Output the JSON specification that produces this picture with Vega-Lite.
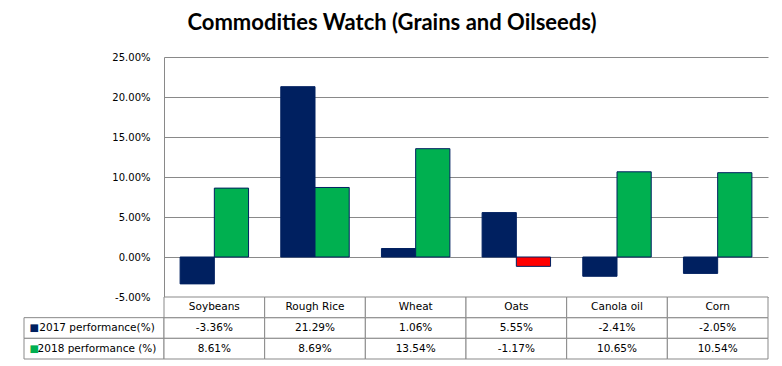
{
  "$schema": "https://vega.github.io/schema/vega-lite/v6.json",
  "padding": {"left": 23, "right": 14.5, "top": 12, "bottom": 7.5},
  "title": {"text": "Commodities Watch (Grains and Oilseeds)", "font": "Lato", "fontSize": 22, "fontWeight": "bold", "color": "#000000", "anchor": "middle", "frame": "bounds", "dx": -4, "offset": 17},
  "columns": 2,
  "spacing": 0,
  "bounds": "flush",
  "datasets": {
    "perf": [
      {"commodity": "Soybeans", "series": "2017 performance(%)", "value": -0.0336},
      {"commodity": "Soybeans", "series": "2018 performance (%)", "value": 0.0861},
      {"commodity": "Rough Rice", "series": "2017 performance(%)", "value": 0.2129},
      {"commodity": "Rough Rice", "series": "2018 performance (%)", "value": 0.0869},
      {"commodity": "Wheat", "series": "2017 performance(%)", "value": 0.0106},
      {"commodity": "Wheat", "series": "2018 performance (%)", "value": 0.1354},
      {"commodity": "Oats", "series": "2017 performance(%)", "value": 0.0555},
      {"commodity": "Oats", "series": "2018 performance (%)", "value": -0.0117},
      {"commodity": "Canola oil", "series": "2017 performance(%)", "value": -0.0241},
      {"commodity": "Canola oil", "series": "2018 performance (%)", "value": 0.1065},
      {"commodity": "Corn", "series": "2017 performance(%)", "value": -0.0205},
      {"commodity": "Corn", "series": "2018 performance (%)", "value": 0.1054}
    ]
  },
  "concat": [
    {
      "width": 140,
      "height": 240,
      "data": {"values": [{"blank": ""}]},
      "mark": {"type": "text"},
      "encoding": {"text": {"field": "blank"}}
    },
    {
      "width": 604,
      "height": 240,
      "data": {"name": "perf"},
      "mark": {"type": "bar", "stroke": "#002060", "strokeWidth": 1},
      "encoding": {
        "x": {"field": "commodity", "type": "nominal", "sort": ["Soybeans", "Rough Rice", "Wheat", "Oats", "Canola oil", "Corn"], "scale": {"paddingInner": 0.32, "paddingOuter": 0.16}, "axis": null},
        "xOffset": {"field": "series", "type": "nominal", "sort": ["2017 performance(%)", "2018 performance (%)"]},
        "y": {"field": "value", "type": "quantitative", "stack": null,
          "scale": {"domain": [-0.05, 0.25], "nice": false, "zero": true},
          "axis": {"format": ".2%", "values": [-0.05, 0, 0.05, 0.1, 0.15, 0.2, 0.25], "grid": true, "gridColor": "#898989", "gridWidth": 1, "domainColor": "#898989", "ticks": false, "labelPadding": 14, "labelFont": "DejaVu Sans", "labelFontSize": 10, "labelColor": "#000000", "title": null}},
        "color": {
          "condition": {"test": "datum.series === '2018 performance (%)' && datum.value < 0", "value": "#FF0000"},
          "field": "series", "type": "nominal",
          "scale": {"domain": ["2017 performance(%)", "2018 performance (%)"], "range": ["#002060", "#00B050"]},
          "legend": null
        }
      }
    },
    {
      "width": 140,
      "height": 62,
      "data": {"name": "perf"},
      "transform": [{"filter": "datum.commodity === 'Soybeans'"}],
      "encoding": {
        "y": {"field": "series", "type": "nominal",
          "scale": {"domain": ["Commodity", "2017 performance(%)", "2018 performance (%)"], "paddingInner": 0, "paddingOuter": 0},
          "axis": {"title": null, "domain": false, "ticks": false, "labelAlign": "left", "labelPadding": -5, "labelFont": "DejaVu Sans", "labelFontSize": 10,
            "labelExpr": "datum.value === 'Commodity' ? '' : '■'",
            "labelColor": {"condition": {"test": "datum.value === '2017 performance(%)'", "value": "#002060"}, "value": "#00B050"}}}
      },
      "layer": [
        {"mark": {"type": "rect", "fill": "#ffffff", "stroke": "#898989", "strokeWidth": 1}},
        {"mark": {"type": "text", "font": "DejaVu Sans", "fontSize": 10.5, "align": "center", "baseline": "middle", "color": "#000000", "dx": 3},
         "encoding": {"text": {"field": "series"}}}
      ]
    },
    {
      "width": 604,
      "height": 62,
      "data": {"name": "perf"},
      "encoding": {
        "x": {"field": "commodity", "type": "nominal", "sort": ["Soybeans", "Rough Rice", "Wheat", "Oats", "Canola oil", "Corn"], "scale": {"paddingInner": 0, "paddingOuter": 0}, "axis": null}
      },
      "layer": [
        {
          "mark": {"type": "rect", "fill": "#ffffff", "stroke": "#898989", "strokeWidth": 1},
          "encoding": {
            "y": {"field": "series", "type": "nominal", "scale": {"domain": ["Commodity", "2017 performance(%)", "2018 performance (%)"], "paddingInner": 0, "paddingOuter": 0}, "axis": null}
          }
        },
        {
          "transform": [{"filter": "datum.series === '2017 performance(%)'"}],
          "mark": {"type": "rect", "fill": "#ffffff", "stroke": "#898989", "strokeWidth": 1},
          "encoding": {
            "y": {"datum": "Commodity", "type": "nominal", "axis": null}
          }
        },
        {
          "mark": {"type": "text", "font": "DejaVu Sans", "fontSize": 10.5, "align": "center", "baseline": "middle", "color": "#000000"},
          "encoding": {
            "y": {"field": "series", "type": "nominal", "axis": null},
            "text": {"field": "value", "type": "quantitative", "format": ".2%"}
          }
        },
        {
          "transform": [{"filter": "datum.series === '2017 performance(%)'"}],
          "mark": {"type": "text", "font": "DejaVu Sans", "fontSize": 10.5, "align": "center", "baseline": "middle", "color": "#000000"},
          "encoding": {
            "y": {"datum": "Commodity", "type": "nominal", "axis": null},
            "text": {"field": "commodity"}
          }
        }
      ]
    }
  ],
  "config": {
    "view": {"stroke": null},
    "background": "#ffffff",
    "locale": {"number": {"decimal": ".", "thousands": ",", "grouping": [3], "currency": ["$", ""], "minus": "-"}}
  }
}
